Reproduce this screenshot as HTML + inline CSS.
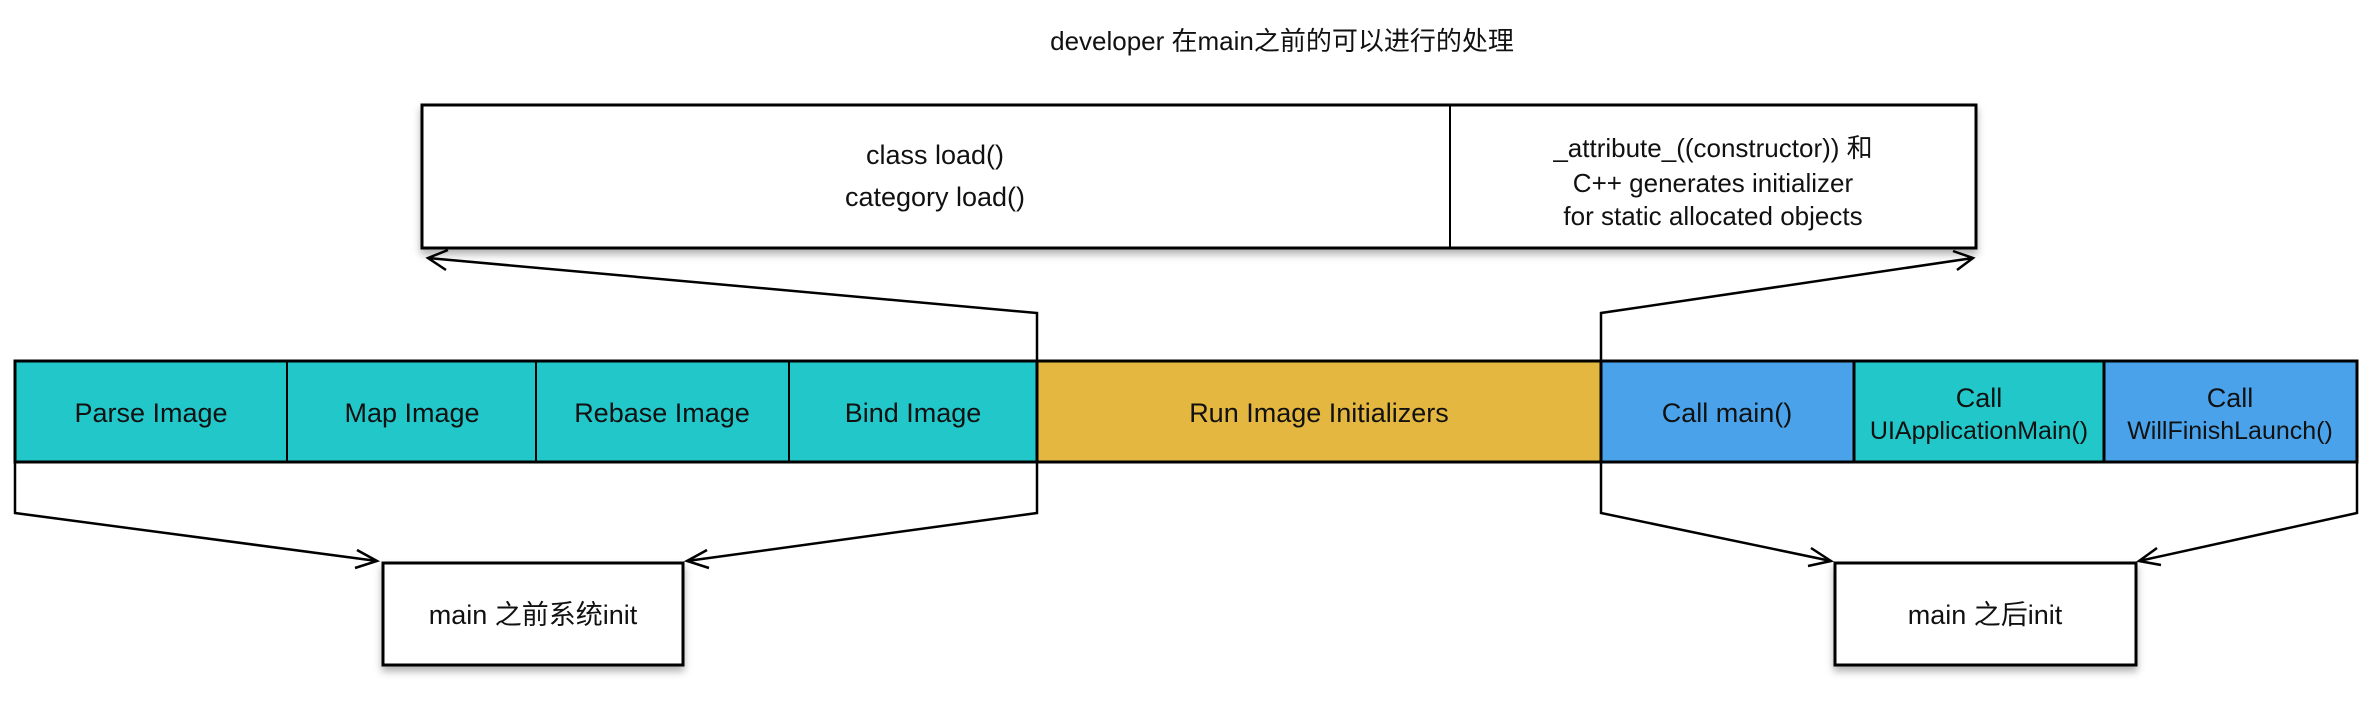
<!DOCTYPE html>
<html><head><meta charset="utf-8"><style>
body{margin:0;background:#fff;}
svg text{font-family:"Liberation Sans","Noto Sans CJK SC",sans-serif;fill:#111;text-anchor:middle;}
</style></head><body>
<svg width="2376" height="720" viewBox="0 0 2376 720" xmlns="http://www.w3.org/2000/svg">
<defs>
<filter id="sh" x="-10%" y="-10%" width="120%" height="130%"><feDropShadow dx="0" dy="5" stdDeviation="4" flood-color="#000" flood-opacity="0.3"/></filter>
</defs>
<text x="1282" y="50" font-size="26">developer 在main之前的可以进行的处理</text>
<rect x="422" y="105" width="1554" height="143" fill="#fff" stroke="#000" stroke-width="3" filter="url(#sh)"/>
<line x1="1450" y1="105" x2="1450" y2="248" stroke="#000" stroke-width="2"/>
<text x="935" y="164" font-size="27">class load()</text>
<text x="935" y="206" font-size="27">category load()</text>
<text x="1713" y="157" font-size="26">_attribute_((constructor)) 和</text>
<text x="1713" y="192" font-size="26">C++ generates initializer</text>
<text x="1713" y="225" font-size="26">for static allocated objects</text>
<g stroke="#000" stroke-width="3">
<rect x="15" y="361" width="1022" height="101" fill="#22C7C9"/>
<rect x="1037" y="361" width="564" height="101" fill="#E3B740"/>
<rect x="1601" y="361" width="253" height="101" fill="#4AA3EA"/>
<rect x="1854" y="361" width="250" height="101" fill="#22C7C9"/>
<rect x="2104" y="361" width="253" height="101" fill="#4AA3EA"/>
<line x1="287" y1="361" x2="287" y2="462" stroke-width="2"/>
<line x1="536" y1="361" x2="536" y2="462" stroke-width="2"/>
<line x1="789" y1="361" x2="789" y2="462" stroke-width="2"/>
</g>
<g font-size="27">
<text x="151" y="422">Parse Image</text>
<text x="412" y="422">Map Image</text>
<text x="662" y="422">Rebase Image</text>
<text x="913" y="422">Bind Image</text>
<text x="1319" y="422">Run Image Initializers</text>
<text x="1727" y="422">Call main()</text>
<text x="1979" y="407">Call</text>
<text x="1979" y="439" font-size="25">UIApplicationMain()</text>
<text x="2230" y="407">Call</text>
<text x="2230" y="439" font-size="25">WillFinishLaunch()</text>
</g>
<g fill="none" stroke="#000" stroke-width="2.5">
<polyline points="1037,361 1037,313 428,258"/>
<polyline points="448,250 428,258 446,270"/>
<polyline points="1601,361 1601,313 1973,258"/>
<polyline points="1953,251 1973,258 1957,270"/>
<polyline points="15,462 15,513 377,561"/>
<polyline points="357,550 377,561 355,568"/>
<polyline points="1037,462 1037,513 687,561"/>
<polyline points="707,550 687,561 709,568"/>
<polyline points="1601,462 1601,513 1831,561"/>
<polyline points="1811,548 1831,561 1808,566"/>
<polyline points="2357,462 2357,513 2139,561"/>
<polyline points="2157,548 2139,561 2161,565"/>
</g>
<rect x="383" y="563" width="300" height="102" fill="#fff" stroke="#000" stroke-width="3" filter="url(#sh)"/>
<text x="533" y="624" font-size="27">main 之前系统init</text>
<rect x="1835" y="563" width="301" height="102" fill="#fff" stroke="#000" stroke-width="3" filter="url(#sh)"/>
<text x="1985" y="624" font-size="27">main 之后init</text>
</svg>
</body></html>
